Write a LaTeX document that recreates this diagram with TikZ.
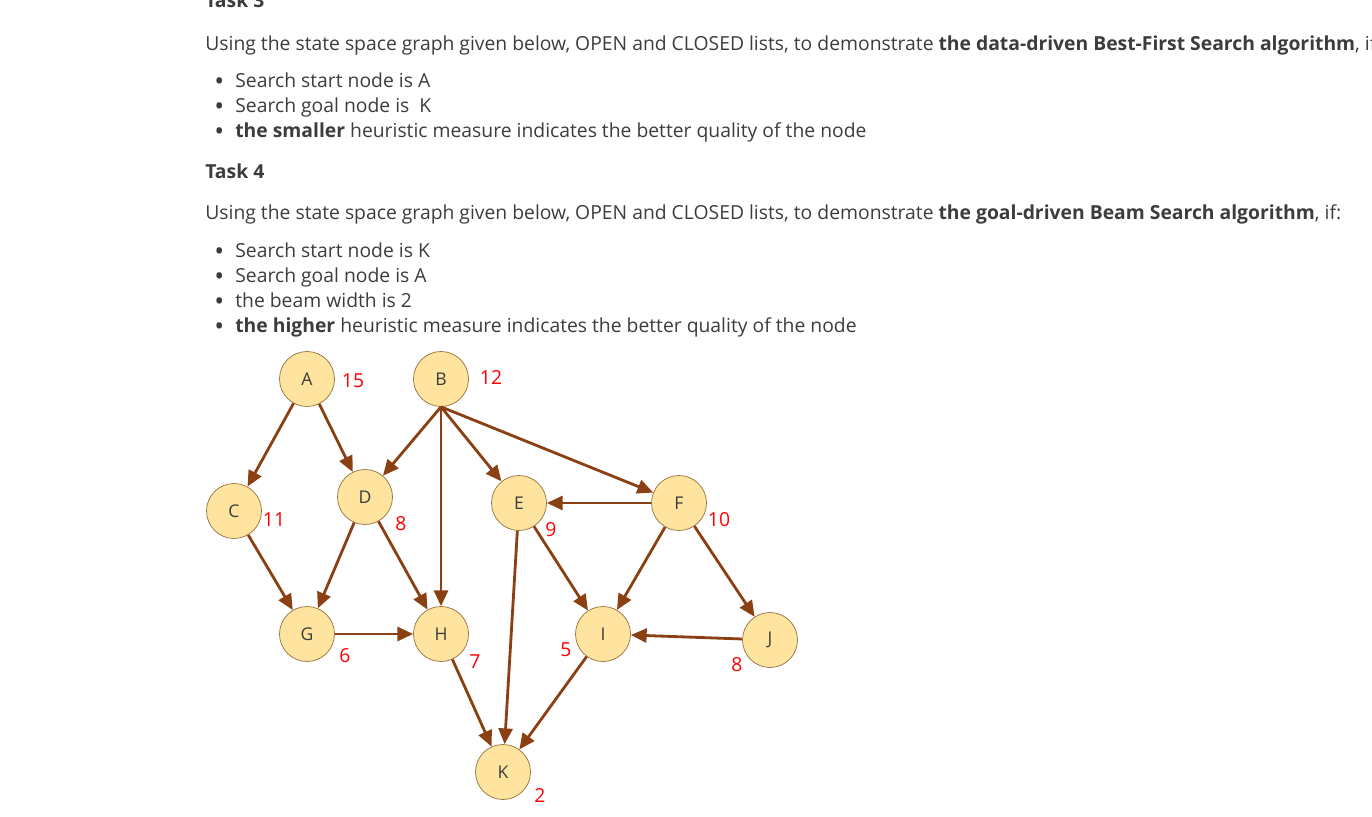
\documentclass[tikz,border=0pt]{standalone}
\usepackage{fontspec}
\setmainfont{Open Sans}
\usetikzlibrary{arrows.meta}
\definecolor{txtgray}{RGB}{60,60,60}
\definecolor{edgebrown}{RGB}{139,64,20}
\definecolor{nodefill}{RGB}{255,228,160}
\definecolor{nodeline}{RGB}{150,110,60}
\newcommand{\itemdot}{\makebox[21\dimexpr0.02cm\relax][l]{\raisebox{-0.25ex}{\fontsize{15}{12}\selectfont•}}}
\begin{document}
\begin{tikzpicture}[
  x=0.02cm, y=-0.02cm,
  >={Triangle[length=9pt,width=8pt]},
  line/.style={anchor=base west, inner sep=0pt, text=txtgray, font=\fontsize{11}{12}\selectfont},
  state/.style={draw=nodeline, fill=nodefill, circle, minimum size=1.1cm, inner sep=0pt, font=\fontsize{10}{12}\selectfont, text=txtgray},
  hval/.style={text=red, inner sep=0pt, font=\fontsize{11}{12}\selectfont},
  edge/.style={->, draw=edgebrown, line width=1.6pt}
]
\useasboundingbox (0,0) rectangle (1372,817);

% text
\node [line, font=\bfseries\fontsize{11}{12}\selectfont] (t3) at (205,8) {Task 3};
\node [line] (l1) at (205,51) {Using the state space graph given below, OPEN and CLOSED lists, to demonstrate \textbf{the data-driven Best-First Search algorithm}, if};
\node [line] (b1) at (214,88) {\itemdot Search start node is A};
\node [line] (b2) at (214,113) {\itemdot Search goal node is\ \ K};
\node [line] (b3) at (214,138) {\itemdot\textbf{the smaller} heuristic measure indicates the better quality of the node};
\node [line, font=\bfseries\fontsize{11}{12}\selectfont] (t4) at (205,179) {Task 4};
\node [line] (l2) at (205,220) {Using the state space graph given below, OPEN and CLOSED lists, to demonstrate \textbf{the goal-driven Beam Search algorithm}, if:};
\node [line] (c1) at (214,258) {\itemdot Search start node is K};
\node [line] (c2) at (214,283) {\itemdot Search goal node is A};
\node [line] (c3) at (214,308) {\itemdot the beam width is 2};
\node [line] (c4) at (214,333) {\itemdot\textbf{the higher} heuristic measure indicates the better quality of the node};

% graph
\foreach \n/\x/\y in {A/307/379, B/441/379, C/234/511, D/365/497, E/519/503,
  F/679/503, G/307/634, H/441/634, I/603/634, J/770/640, K/503/772}
  \node [state] (\n) at (\x,\y) {\n};

\foreach \v/\x/\y [count=\i] in {15/353/381, 12/491/378, 11/274/520, 8/401/524,
  9/551/530, 10/719/520, 6/345/656, 7/475/662, 5/566/650, 8/737/665, 2/540/795}
  \node [hval] (h\i) at (\x,\y) {\v};

\foreach \a/\b in {A/C, A/D, B.south/D, B.south/H, B.south/E, B.south/F, F/E,
  C/G, D/G, D/H, G/H, H/K, E/K, E/I, F/I, F/J, J/I, I/K}
  \draw [edge] (\a) -- (\b);
\end{tikzpicture}
\end{document}
